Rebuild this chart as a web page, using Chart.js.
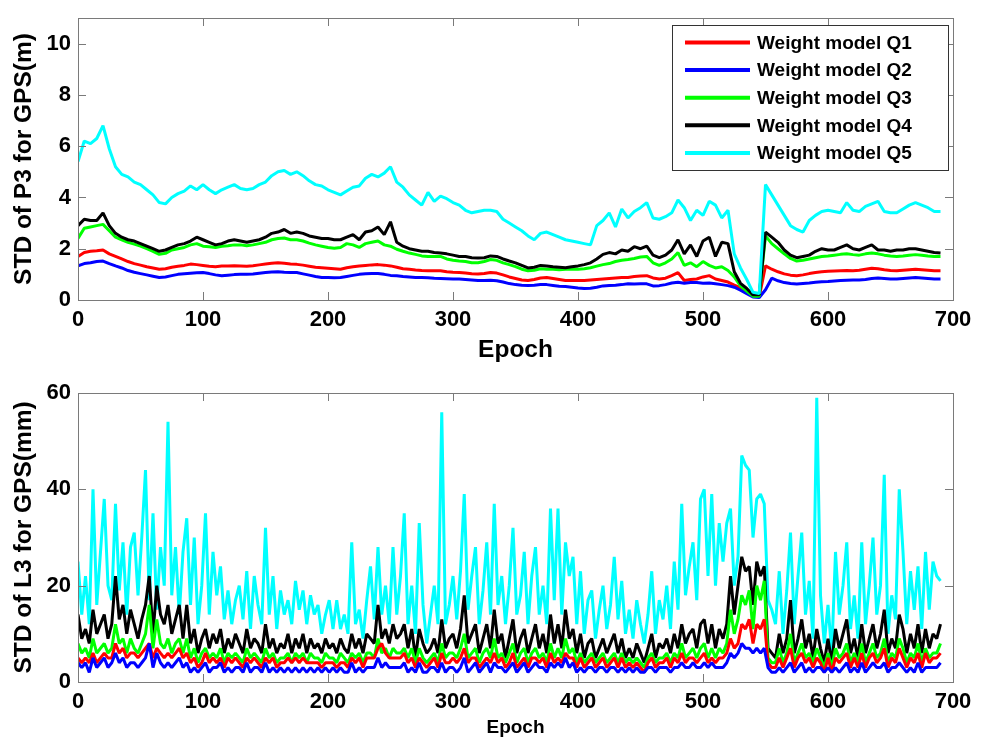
<!DOCTYPE html>
<html>
<head>
<meta charset="utf-8">
<script src="https://cdn.jsdelivr.net/npm/chart.js@4.4.1/dist/chart.umd.min.js"></script>
<style>
html,body{margin:0;padding:0;background:#fff;}
#wrap{position:relative;width:989px;height:738px;overflow:hidden;}
canvas{position:absolute;left:0;}
#c1{top:0;}
#c2{top:365px;}
</style>
</head>
<body>
<div id="wrap">
<canvas id="c1" width="989" height="365"></canvas>
<canvas id="c2" width="989" height="373"></canvas>
</div>
<script>
// ---------- labels / ticks ----------
const seriesLabels = ['Weight model Q1','Weight model Q2','Weight model Q3','Weight model Q4','Weight model Q5'];
const seriesColors = ['#ff0000','#0000ff','#00ff00','#000000','#00ffff'];
const xTickValues = [0,100,200,300,400,500,600,700];
const p3TickValues = [0,2,4,6,8,10];
const l3TickValues = [0,20,40,60];
const xTitle = 'Epoch';
const p3Title = 'STD of P3 for GPS(m)';
const l3Title = 'STD of L3 for GPS(mm)';
const p3Step = 5;   // epochs between samples (top panel)
const l3Step = 3;   // epochs between samples (bottom panel)

// ---------- top panel: STD of P3 (m), epochs 0..690 every 5 ----------
const p3Q1 = [
1.7,1.85,1.9,1.92,1.95,1.8,1.7,1.6,1.5,1.42,
1.36,1.3,1.25,1.2,1.22,1.28,1.32,1.35,1.4,1.38,
1.35,1.32,1.3,1.33,1.33,1.34,1.33,1.32,1.34,1.37,
1.4,1.43,1.45,1.43,1.4,1.39,1.36,1.32,1.28,1.26,
1.24,1.22,1.2,1.26,1.3,1.33,1.35,1.37,1.38,1.36,
1.33,1.28,1.22,1.2,1.17,1.15,1.14,1.14,1.14,1.1,
1.08,1.07,1.05,1.02,1.01,1.03,1.07,1.05,0.98,0.9,
0.84,0.78,0.76,0.8,0.86,0.88,0.84,0.8,0.76,0.76,
0.76,0.76,0.78,0.8,0.82,0.84,0.86,0.88,0.88,0.92,
0.94,0.95,0.86,0.82,0.85,0.95,1.07,0.76,0.8,0.82,
0.9,0.95,0.82,0.76,0.7,0.58,0.48,0.35,0.15,0.13,
1.33,1.2,1.1,1.02,0.97,0.95,0.98,1.03,1.07,1.1,
1.12,1.13,1.14,1.15,1.14,1.16,1.2,1.24,1.22,1.18,
1.15,1.14,1.16,1.18,1.2,1.18,1.16,1.14,1.14];
const p3Q2 = [
1.33,1.42,1.45,1.5,1.52,1.42,1.33,1.25,1.15,1.08,
1.03,0.98,0.93,0.88,0.9,0.95,1.0,1.02,1.04,1.06,
1.07,1.03,0.98,0.95,0.97,0.99,1.0,1.0,1.01,1.04,
1.07,1.09,1.1,1.08,1.07,1.07,1.02,0.97,0.92,0.88,
0.88,0.87,0.88,0.92,0.96,1.0,1.02,1.03,1.03,1.0,
0.96,0.95,0.92,0.9,0.88,0.88,0.87,0.85,0.84,0.83,
0.82,0.82,0.8,0.78,0.76,0.76,0.77,0.75,0.7,0.64,
0.6,0.58,0.57,0.58,0.6,0.6,0.57,0.54,0.53,0.5,
0.47,0.45,0.46,0.5,0.55,0.57,0.58,0.6,0.63,0.62,
0.63,0.63,0.55,0.56,0.6,0.66,0.69,0.65,0.68,0.68,
0.65,0.66,0.63,0.6,0.56,0.5,0.38,0.25,0.12,0.1,
0.4,0.85,0.75,0.68,0.64,0.62,0.64,0.66,0.69,0.71,
0.72,0.74,0.76,0.77,0.78,0.78,0.8,0.84,0.86,0.84,
0.82,0.82,0.84,0.86,0.88,0.86,0.84,0.82,0.82];
const p3Q3 = [
2.4,2.8,2.85,2.9,2.95,2.7,2.45,2.35,2.25,2.18,
2.1,2.0,1.9,1.78,1.82,1.95,2.0,2.05,2.15,2.2,
2.1,2.08,2.05,2.1,2.12,2.15,2.15,2.12,2.15,2.2,
2.25,2.35,2.4,2.42,2.35,2.35,2.3,2.22,2.15,2.1,
2.05,2.02,2.05,2.2,2.15,2.05,2.2,2.25,2.3,2.15,
2.1,1.98,1.9,1.83,1.78,1.72,1.7,1.7,1.7,1.6,
1.55,1.52,1.5,1.45,1.45,1.5,1.58,1.55,1.45,1.38,
1.3,1.2,1.14,1.16,1.22,1.2,1.2,1.18,1.2,1.2,
1.2,1.22,1.26,1.32,1.38,1.42,1.5,1.55,1.58,1.62,
1.68,1.7,1.45,1.35,1.45,1.6,1.85,1.35,1.45,1.3,
1.5,1.35,1.25,1.3,1.15,0.9,0.55,0.35,0.15,0.15,
2.5,2.2,2.0,1.8,1.62,1.52,1.55,1.6,1.65,1.7,
1.72,1.75,1.78,1.8,1.77,1.75,1.8,1.83,1.8,1.75,
1.72,1.7,1.72,1.75,1.77,1.75,1.72,1.7,1.7];
const p3Q4 = [
2.9,3.15,3.1,3.1,3.4,2.9,2.6,2.45,2.35,2.3,
2.2,2.1,2.0,1.9,1.95,2.05,2.15,2.2,2.3,2.45,
2.35,2.25,2.15,2.2,2.3,2.35,2.3,2.25,2.3,2.35,
2.45,2.6,2.65,2.75,2.6,2.65,2.6,2.5,2.45,2.4,
2.4,2.35,2.35,2.45,2.55,2.35,2.65,2.7,2.85,2.55,
3.05,2.25,2.1,2.0,1.95,1.9,1.9,1.85,1.83,1.8,
1.75,1.7,1.7,1.65,1.64,1.65,1.72,1.7,1.6,1.52,
1.45,1.35,1.25,1.28,1.35,1.33,1.3,1.28,1.26,1.3,
1.33,1.38,1.45,1.6,1.78,1.85,1.8,1.95,1.9,2.08,
2.0,2.1,1.75,1.65,1.75,1.95,2.35,1.8,2.15,1.7,
2.3,2.45,1.7,2.25,2.2,1.1,0.65,0.45,0.2,0.2,
2.65,2.45,2.25,1.95,1.75,1.65,1.7,1.75,1.9,2.0,
1.95,1.95,2.05,2.15,2.0,1.95,2.05,2.15,1.95,1.95,
1.9,1.95,1.95,2.0,2.0,1.95,1.9,1.85,1.83];
const p3Q5 = [
5.4,6.2,6.1,6.3,6.8,5.9,5.2,4.9,4.8,4.6,
4.5,4.3,4.1,3.8,3.75,4.0,4.15,4.25,4.45,4.3,
4.5,4.3,4.15,4.3,4.4,4.5,4.35,4.3,4.35,4.5,
4.6,4.85,5.0,5.05,4.9,5.0,4.85,4.65,4.5,4.45,
4.3,4.2,4.1,4.25,4.4,4.45,4.75,4.9,4.8,4.95,
5.2,4.6,4.4,4.1,3.9,3.7,4.2,3.85,4.05,3.95,
3.8,3.7,3.5,3.4,3.45,3.5,3.5,3.45,3.15,3.0,
2.85,2.7,2.5,2.35,2.6,2.65,2.55,2.45,2.35,2.3,
2.25,2.2,2.15,2.9,3.1,3.4,2.85,3.55,3.2,3.45,
3.6,3.8,3.2,3.15,3.25,3.4,3.9,3.6,3.1,3.5,
3.3,3.85,3.7,3.2,3.5,1.8,1.25,0.8,0.3,0.25,
4.5,4.1,3.7,3.3,2.9,2.75,2.65,3.1,3.3,3.45,
3.5,3.45,3.4,3.8,3.5,3.45,3.65,3.75,3.85,3.45,
3.4,3.4,3.55,3.7,3.8,3.7,3.6,3.45,3.45];

// ---------- bottom panel: STD of L3 (mm), epochs 0..690 every 3 ----------
const l3Q1 = [
5,4,5,4,6,4,5,6,5,5, 8,6,7,5,6,6,5,6,7,8, 5,7,6,5,6,5,6,7,5,6,
4,5,3,4,6,4,5,4,5,3, 5,4,5,4,3,5,4,5,4,3, 5,4,5,3,4,4,5,4,5,4,
5,4,4,4,4,3,4,4,4,3, 4,4,3,5,4,5,3,5,5,5, 7,8,6,5,5,5,5,6,4,5,
3,5,4,3,4,5,3,6,4,4, 5,4,5,7,4,5,5,3,4,5, 4,6,4,5,3,4,6,3,4,5,
3,5,5,4,5,3,6,4,5,4, 6,5,5,3,5,3,4,5,3,4, 5,3,4,5,3,5,3,4,3,4,
3,2,4,5,3,4,4,5,3,5, 4,6,4,5,5,4,5,6,4,5, 4,5,5,6,9,7,8,12,11,13,
8,12,11,13,4,3,3,5,3,5, 7,3,5,6,4,5,3,5,4,2, 5,2,5,4,5,6,3,5,3,6,
3,5,6,4,5,7,3,5,4,7, 5,3,5,4,6,3,6,4,5,5, 6];
const l3Q2 = [
4,3,4,2,5,3,4,5,3,4, 6,4,5,3,4,4,3,4,5,8, 3,6,4,3,4,3,4,5,3,4,
2,3,2,3,4,2,3,3,4,2, 3,2,3,3,2,4,2,3,3,2, 4,2,3,2,3,2,3,2,3,2,
3,2,3,2,3,2,3,2,3,2, 3,2,2,4,2,3,2,3,3,3, 5,3,4,3,3,3,3,4,2,3,
2,4,2,2,3,3,2,4,2,3, 3,2,3,5,2,3,4,2,3,4, 2,4,3,3,2,3,4,2,3,4,
2,3,4,3,3,2,4,3,4,3, 5,3,4,2,3,2,3,3,2,3, 3,2,3,3,2,3,2,3,2,3,
2,2,3,3,2,3,3,3,2,3, 3,4,3,3,4,3,3,4,3,4, 3,3,3,4,6,5,6,8,7,7,
6,7,6,7,3,2,2,3,2,3, 4,2,3,4,2,3,2,3,3,2, 3,2,3,2,3,4,2,3,2,4,
2,3,4,3,3,4,2,3,3,4, 3,2,3,2,4,2,3,3,3,3, 4];
const l3Q3 = [
8,6,7,5,9,6,7,8,6,7, 12,8,9,6,9,7,6,8,10,16, 7,13,8,7,9,6,8,9,6,9,
5,7,4,6,7,5,6,5,7,4, 6,5,6,5,4,7,5,6,5,4, 7,5,6,4,5,5,6,4,6,5,
6,4,6,5,5,4,6,5,5,4, 6,5,4,6,5,6,4,6,6,5, 9,6,7,5,7,6,6,7,5,7,
4,7,5,4,5,6,4,8,5,6, 6,5,7,10,5,6,7,4,6,7, 5,9,5,6,4,6,8,4,6,7,
4,6,7,5,6,4,8,5,7,5, 9,6,7,4,6,4,5,6,4,5, 6,4,5,6,4,6,4,5,4,5,
4,3,5,6,4,5,5,6,4,6, 5,8,5,6,7,5,7,8,5,7, 5,7,6,8,15,10,13,18,16,19,
11,20,17,21,5,4,4,7,4,6, 10,4,6,8,5,6,4,7,5,3, 6,3,7,5,6,8,4,6,4,8,
4,6,8,5,6,9,4,6,5,9, 7,4,6,5,8,4,7,5,6,6, 8];
const l3Q4 = [
14,9,11,8,15,10,12,14,9,12, 22,13,16,10,15,12,9,13,16,22, 10,20,14,12,16,10,13,16,9,16,
8,11,6,9,11,7,10,8,11,6, 9,7,10,8,6,11,7,9,8,6, 12,7,9,6,8,7,10,6,9,7,
10,6,9,7,8,6,9,7,8,6, 9,7,6,10,7,9,6,10,9,8, 16,9,11,8,12,9,10,12,7,11,
5,11,8,6,7,9,6,13,7,9, 10,7,11,18,8,10,12,6,9,12, 7,15,8,10,5,9,13,6,9,11,
6,9,12,7,10,6,14,8,12,7, 15,9,11,6,10,5,8,9,5,7, 9,6,8,10,6,9,5,7,5,8,
6,4,7,10,5,8,7,9,6,10, 7,12,8,10,11,7,12,13,8,12, 7,11,9,12,22,14,20,26,23,24,
16,25,22,24,7,6,5,10,6,9, 17,6,9,13,7,10,5,11,7,4, 9,4,11,7,10,13,6,9,5,12,
6,9,12,7,10,15,6,9,7,14, 11,6,10,7,12,6,11,7,10,9, 12];
const l3Q5 = [
25,14,22,12,40,16,27,38,20,17, 37,19,29,14,28,31,18,30,44,17, 35,15,28,20,54,18,28,14,27,34,
16,30,12,20,35,14,27,18,24,13, 19,12,17,20,13,23,11,22,16,12, 32,14,22,11,19,14,17,12,21,15,
19,12,18,14,16,10,14,17,11,17, 11,14,10,29,12,15,9,17,24,13, 28,14,20,12,28,14,22,35,12,20,
10,33,16,8,14,20,12,56,12,16, 22,13,23,39,15,22,28,12,19,29, 14,37,16,22,12,20,32,14,18,27,
12,22,28,14,20,12,36,17,36,14, 29,22,26,12,23,10,17,19,9,15, 20,11,16,26,13,21,10,15,9,17,
12,8,14,23,10,17,13,20,11,25, 15,37,18,24,29,17,38,40,22,39, 20,33,25,33,36,20,26,47,45,44,
30,38,39,37,17,15,12,23,10,19, 31,12,22,31,14,21,9,59,18,8, 16,6,27,14,20,29,11,18,9,29,
12,20,30,14,20,43,10,18,13,40, 27,12,23,15,24,11,27,15,25,22, 21];

// ---------- helpers ----------
const FONT = 'Arial, "Liberation Sans", Helvetica, sans-serif';
Chart.defaults.font.family = FONT;
Chart.defaults.color = '#000';

function toPoints(values, step) {
  return values.map((v, i) => ({ x: i * step, y: v }));
}

const framePlugin = {
  id: 'frame',
  afterDatasetsDraw(chart) {
    const { ctx, chartArea: a } = chart;
    const xs = chart.scales.x, ys = chart.scales.y;
    ctx.save();
    ctx.strokeStyle = '#7a7a7a';
    ctx.lineWidth = 1;
    ctx.strokeRect(Math.round(a.left) + 0.5, Math.round(a.top) + 0.5,
                   Math.round(a.right - a.left), Math.round(a.bottom - a.top));
    ctx.beginPath();
    const L = 8;
    xs.ticks.forEach(t => {
      const px = Math.round(xs.getPixelForValue(t.value)) + 0.5;
      ctx.moveTo(px, a.bottom); ctx.lineTo(px, a.bottom - L);
      ctx.moveTo(px, a.top); ctx.lineTo(px, a.top + L);
    });
    ys.ticks.forEach(t => {
      const py = Math.round(ys.getPixelForValue(t.value)) + 0.5;
      ctx.moveTo(a.left, py); ctx.lineTo(a.left + L, py);
      ctx.moveTo(a.right, py); ctx.lineTo(a.right - L, py);
    });
    ctx.stroke();
    ctx.restore();
  }
};

const legendPlugin = {
  id: 'boxLegend',
  afterDraw(chart) {
    const { ctx, chartArea: a } = chart;
    const bw = 276, bh = 145;
    const bx = a.right - 281, by = a.top + 7;
    ctx.save();
    ctx.fillStyle = '#fff';
    ctx.fillRect(bx, by, bw, bh);
    ctx.strokeStyle = '#333';
    ctx.lineWidth = 1;
    ctx.strokeRect(bx + 0.5, by + 0.5, bw, bh);
    ctx.font = 'bold 19px ' + FONT;
    ctx.textBaseline = 'middle';
    ctx.textAlign = 'left';
    chart.data.datasets.forEach((ds, i) => {
      const yy = by + 17.5 + i * 27.6;
      ctx.strokeStyle = ds.borderColor;
      ctx.lineWidth = 4;
      ctx.beginPath();
      ctx.moveTo(bx + 13, yy); ctx.lineTo(bx + 78, yy);
      ctx.stroke();
      ctx.fillStyle = '#000';
      ctx.fillText(ds.label, bx + 85, yy + 1);
    });
    ctx.restore();
  }
};

function makeChart(canvasId, cfg) {
  const datasets = cfg.series.map((vals, i) => ({
    label: seriesLabels[i],
    data: toPoints(vals, cfg.step),
    borderColor: seriesColors[i],
    backgroundColor: seriesColors[i],
    borderWidth: cfg.lineWidth,
    pointRadius: 0,
    tension: 0,
    fill: false,
    borderJoinStyle: 'bevel',
    order: cfg.order[i]
  }));
  return new Chart(document.getElementById(canvasId), {
    type: 'line',
    data: { datasets },
    options: {
      responsive: false,
      animation: false,
      devicePixelRatio: 1,
      events: [],
      layout: { padding: { left: 0, right: 36, top: cfg.padTop, bottom: 0 } },
      plugins: { legend: { display: false }, tooltip: { enabled: false } },
      scales: {
        x: {
          type: 'linear', min: 0, max: 700,
          afterBuildTicks: s => { s.ticks = xTickValues.map(v => ({ value: v })); },
          afterFit: s => { s.height = cfg.xHeight; },
          grid: { display: false, drawTicks: false },
          border: { display: false },
          ticks: { padding: 8.5, autoSkip: false, maxRotation: 0, color: '#000',
                   font: { size: 22, weight: 'bold', lineHeight: 1 } },
          title: { display: true, text: xTitle, color: '#000',
                   font: { size: cfg.xTitleSize, weight: 'bold', lineHeight: 1 },
                   padding: { top: 0, bottom: cfg.xTitlePad } }
        },
        y: {
          type: 'linear', min: 0, max: cfg.yMax,
          afterBuildTicks: s => { s.ticks = cfg.yTicks.map(v => ({ value: v })); },
          afterFit: s => { s.width = 78; },
          grid: { display: false, drawTicks: false },
          border: { display: false },
          ticks: { padding: 7, color: '#000', font: { size: 22, weight: 'bold', lineHeight: 1 } },
          title: { display: true, text: cfg.yTitle, color: '#000',
                   font: { size: 24.5, weight: 'bold', lineHeight: 1 },
                   padding: { top: 11.75, bottom: 0 } }
        }
      }
    },
    plugins: cfg.legend ? [framePlugin, legendPlugin] : [framePlugin]
  });
}

makeChart('c1', {
  series: [p3Q1, p3Q2, p3Q3, p3Q4, p3Q5], step: p3Step,
  order: [4, 3, 2, 1, 0], lineWidth: 3,
  padTop: 10, xHeight: 65, xTitleSize: 24.5, xTitlePad: 2.75,
  yMax: 11, yTicks: p3TickValues, yTitle: p3Title, legend: true
});
makeChart('c2', {
  series: [l3Q1, l3Q2, l3Q3, l3Q4, l3Q5], step: l3Step,
  order: [1, 0, 2, 3, 4], lineWidth: 3,
  padTop: 28, xHeight: 56, xTitleSize: 19, xTitlePad: 0.5,
  yMax: 60, yTicks: l3TickValues, yTitle: l3Title, legend: false
});
</script>
</body>
</html>
